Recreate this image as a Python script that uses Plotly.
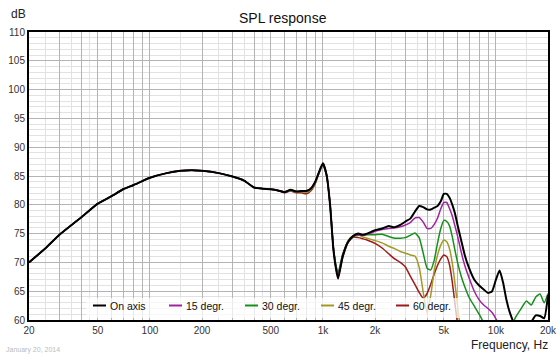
import plotly.graph_objects as go
import math

# ---------------- data ----------------
freq = [20, 25, 30, 40, 50, 60, 70, 80,
        100, 125, 150, 175, 200,
        250, 300, 350, 400, 450, 500,
        550, 600, 650, 700, 750, 800, 850, 900, 950,
        1000, 1050, 1100, 1150, 1200, 1225, 1300,
        1400, 1500, 1600, 1700, 1800, 1900, 2000,
        2200, 2400, 2600, 2800, 3000,
        3200, 3400, 3600, 3800, 4000,
        4200, 4400, 4600, 4800, 5000,
        5200, 5400, 5600, 5800, 6000,
        6300, 6600, 7000, 7500, 8000,
        8500, 9000, 9500, 10000,
        10500, 11000, 11500, 12000,
        13000, 14000, 15000, 16000, 17000, 18000, 19000, 20000]

on_axis = [70.0, 72.5, 74.8, 77.8, 80.2, 81.5, 82.7, 83.4,
           84.7, 85.5, 85.9, 86.0, 85.9,
           85.5, 84.9, 84.2, 83.0, 82.8, 82.7,
           82.5, 82.2, 82.6, 82.3, 82.4, 82.4, 82.8, 83.9, 85.7,
           87.2, 85.2, 80.0, 72.2, 68.3, 67.2, 71.0,
           73.6, 74.6, 75.0, 74.8, 75.0, 75.3, 75.6,
           75.9, 76.3, 76.1, 76.5, 77.1,
           77.6, 78.8, 79.8, 79.6, 79.2,
           79.2, 79.5, 79.8, 80.6, 81.9,
           81.9, 81.2, 80.0, 78.5, 76.5,
           73.8, 71.3, 69.0, 67.0, 66.0,
           65.3, 64.7, 65.0, 67.0,
           68.6, 66.5, 63.5, 61.4,
           58.8, 57.2, 57.8, 59.6, 60.8, 60.7, 60.3, 64.3]

deg15 = [70.0, 72.5, 74.8, 77.8, 80.2, 81.5, 82.7, 83.4,
         84.7, 85.5, 85.9, 86.0, 85.9,
         85.5, 84.9, 84.2, 83.0, 82.8, 82.7,
         82.5, 82.2, 82.6, 82.3, 82.4, 82.4, 82.8, 83.9, 85.7,
         87.2, 85.2, 80.0, 72.4, 68.6, 67.8, 71.2,
         73.7, 74.6, 74.8, 74.7, 74.9, 75.1, 75.4,
         75.7, 75.9, 76.0, 76.2, 76.5,
         76.9, 77.7, 77.8, 77.0, 75.9,
         75.9, 76.6, 77.7, 79.3, 80.4,
         80.4, 79.3, 78.0, 76.3, 74.6,
         71.8, 69.5, 67.3, 65.0, 63.5,
         62.6, 62.0, 61.3, 60.2,
         58.8, 57.5, 56.5, 56.0,
         55.5, 55.0, 55.0, 55.0, 55.0, 55.0, 55.0, 55.0]

deg30 = [70.0, 72.5, 74.8, 77.8, 80.2, 81.5, 82.7, 83.4,
         84.7, 85.5, 85.9, 86.0, 85.9,
         85.5, 84.9, 84.2, 83.0, 82.8, 82.7,
         82.5, 82.2, 82.5, 82.3, 82.3, 82.3, 82.7, 83.8, 85.6,
         87.1, 85.2, 80.1, 72.6, 69.0, 68.3, 71.4,
         73.6, 74.5, 74.7, 74.7, 74.8, 74.8, 74.8,
         74.9, 74.5, 74.2, 74.2, 74.3,
         74.7, 75.1, 74.3, 71.6, 69.0,
         68.7, 70.4, 73.4, 75.9, 77.3,
         77.1, 76.3, 74.4, 72.1, 70.0,
         67.6, 65.8, 63.9, 62.4, 61.0,
         59.5, 58.0, 57.0, 56.0,
         55.5, 55.5, 56.5, 58.0,
         60.5, 62.0, 63.3, 62.6, 64.0, 64.5, 63.0, 64.6]

deg45 = [70.0, 72.5, 74.8, 77.8, 80.2, 81.5, 82.7, 83.4,
         84.7, 85.5, 85.9, 86.0, 85.9,
         85.5, 84.9, 84.2, 83.0, 82.8, 82.7,
         82.5, 82.2, 82.5, 82.2, 82.3, 82.2, 82.6, 83.7, 85.6,
         87.1, 85.1, 80.0, 72.4, 68.7, 67.9, 71.2,
         73.8, 74.7, 74.8, 74.4, 74.2, 74.0, 73.8,
         73.4, 72.8, 72.4, 71.9, 71.6,
         71.3, 71.1, 69.2, 64.8, 61.2,
         64.3, 68.6, 71.3, 73.0, 73.9,
         73.6, 72.3, 69.8, 66.3, 62.5,
         57.5, 54.0, 53.0, 53.0, 53.0,
         53.0, 53.0, 53.0, 53.0,
         53.0, 53.0, 53.0, 53.0,
         53.0, 53.0, 53.0, 53.0, 53.0, 53.0, 53.0, 53.0]

deg60 = [70.0, 72.5, 74.8, 77.8, 80.2, 81.5, 82.7, 83.4,
         84.7, 85.5, 85.9, 86.0, 85.9,
         85.5, 84.9, 84.2, 83.0, 82.8, 82.7,
         82.5, 82.1, 82.4, 82.1, 82.1, 81.9, 82.4, 83.6, 85.5,
         87.0, 85.0, 80.0, 72.3, 68.4, 67.5, 70.8,
         73.5, 74.4, 74.3, 74.1, 73.9, 73.6, 73.3,
         72.5, 71.5, 70.6, 70.0, 69.2,
         67.6, 66.2, 64.8, 63.8, 64.6,
         66.2, 68.0, 69.5, 70.6, 71.3,
         71.0, 69.5, 66.5, 62.8, 59.3,
         55.0, 53.0, 52.0, 52.0, 52.0,
         52.0, 52.0, 52.0, 52.0,
         52.0, 52.0, 52.0, 52.0,
         52.0, 52.0, 52.0, 52.0, 52.0, 52.0, 52.0, 52.0]

series_names = ["On axis", "15 degr.", "30 degr.", "45 degr.", "60 degr."]
series_values = [on_axis, deg15, deg30, deg45, deg60]
series_colors = ["#000000", "#a0249f", "#17901a", "#a39a25", "#9c1a1a"]
series_widths = [2.0, 1.5, 1.5, 1.5, 1.5]

x_tick_vals = [20, 50, 100, 200, 500, 1000, 2000, 5000, 10000, 20000]
x_tick_text = ["20", "50", "100", "200", "500", "1k", "2k", "5k", "10k", "20k"]
y_tick_vals = [60, 65, 70, 75, 80, 85, 90, 95, 100, 105, 110]

FONT = "Liberation Sans, Arial, sans-serif"

# ------------- grid values -------------
grid_major = []
for d in [10, 100, 1000, 10000]:
    for m in range(1, 10):
        v = m * d
        if 20 <= v <= 20000:
            grid_major.append(v)
grid_text = [x_tick_text[x_tick_vals.index(v)] if v in x_tick_vals else "" for v in grid_major]
grid_minor = []
for d in [10, 100, 1000, 10000]:
    for m in [1.5, 2.5, 3.5, 4.5]:
        v = m * d
        if 20 < v < 20000:
            grid_minor.append(v)

fig = go.Figure()
for i in reversed(range(len(series_names))):
    fig.add_trace(go.Scatter(
        x=freq, y=series_values[i], name=series_names[i], mode="lines",
        line=dict(color=series_colors[i], width=series_widths[i], shape="spline", smoothing=0.5),
        showlegend=False))

fig.update_layout(
    width=560, height=356,
    margin=dict(l=29, r=12, t=32, b=36, autoexpand=False),
    paper_bgcolor="white", plot_bgcolor="white",
    font=dict(family=FONT, size=10, color="#333333"),
    xaxis=dict(type="log", range=[math.log10(20), math.log10(20000)], automargin=False,
               tickmode="array", tickvals=grid_major, ticktext=grid_text,
               showgrid=True, gridcolor="#b4b4b4", gridwidth=1,
               minor=dict(tickmode="array", tickvals=grid_minor, showgrid=True,
                          gridcolor="#e2e2e2", gridwidth=1, ticks=""),
               showline=True, linecolor="black", linewidth=2, mirror=True,
               ticks="", zeroline=False, tickfont=dict(size=10, color="#333333")),
    yaxis=dict(range=[60, 110], tickmode="array", tickvals=y_tick_vals, automargin=False,
               showgrid=True, gridcolor="#b4b4b4", gridwidth=1,
               minor=dict(dtick=1, tick0=60, showgrid=True, gridcolor="#e2e2e2", gridwidth=1, ticks=""),
               showline=True, linecolor="black", linewidth=2, mirror=True,
               ticks="", zeroline=False, tickfont=dict(size=10, color="#333333")),
)

pw = 519.0
ph = 288.0
def px(xp):
    return (xp - 29) / pw
def py(yp):
    return (320 - yp) / ph

shapes = [dict(type="rect", xref="paper", yref="paper",
               x0=px(86), x1=px(462), y0=py(318), y1=py(298),
               fillcolor="rgba(255,255,255,0.72)", line=dict(width=0), layer="above")]
annotations = [
    dict(text="SPL response", xref="paper", yref="paper", x=px(283), y=py(18),
         xanchor="center", yanchor="middle", borderpad=0,
         showarrow=False, font=dict(size=14, color="#111111", family=FONT)),
    dict(text="dB", xref="paper", yref="paper", x=px(18), y=py(14),
         xanchor="center", yanchor="middle", borderpad=0,
         showarrow=False, font=dict(size=12, color="#222222", family=FONT)),
    dict(text="Frequency, Hz", xref="paper", yref="paper", x=px(549), y=py(345),
         xanchor="right", yanchor="middle", borderpad=0,
         showarrow=False, font=dict(size=12, color="#222222", family=FONT)),
    dict(text="January 20, 2014", xref="paper", yref="paper", x=px(5), y=py(350),
         xanchor="left", yanchor="middle", borderpad=0,
         showarrow=False, font=dict(size=7, color="#bbbbbb", family=FONT)),
]
legend_x = [93, 169, 245, 321, 396]
ly = py(305.5)
for i, name in enumerate(series_names):
    x0 = legend_x[i]
    shapes.append(dict(type="line", xref="paper", yref="paper",
                       x0=px(x0), x1=px(x0 + 13), y0=ly, y1=ly,
                       line=dict(color=series_colors[i], width=2), layer="above"))
    annotations.append(dict(text=name, xref="paper", yref="paper", x=px(x0 + 16), y=ly,
                            xanchor="left", yanchor="middle", borderpad=0, showarrow=False,
                            font=dict(size=10.5, color="#111111", family=FONT)))
fig.update_layout(shapes=shapes, annotations=annotations)

fig.write_html("out.html", config={"displayModeBar": False},
               post_script="document.body.style.margin='0';document.body.style.overflow='hidden';")
